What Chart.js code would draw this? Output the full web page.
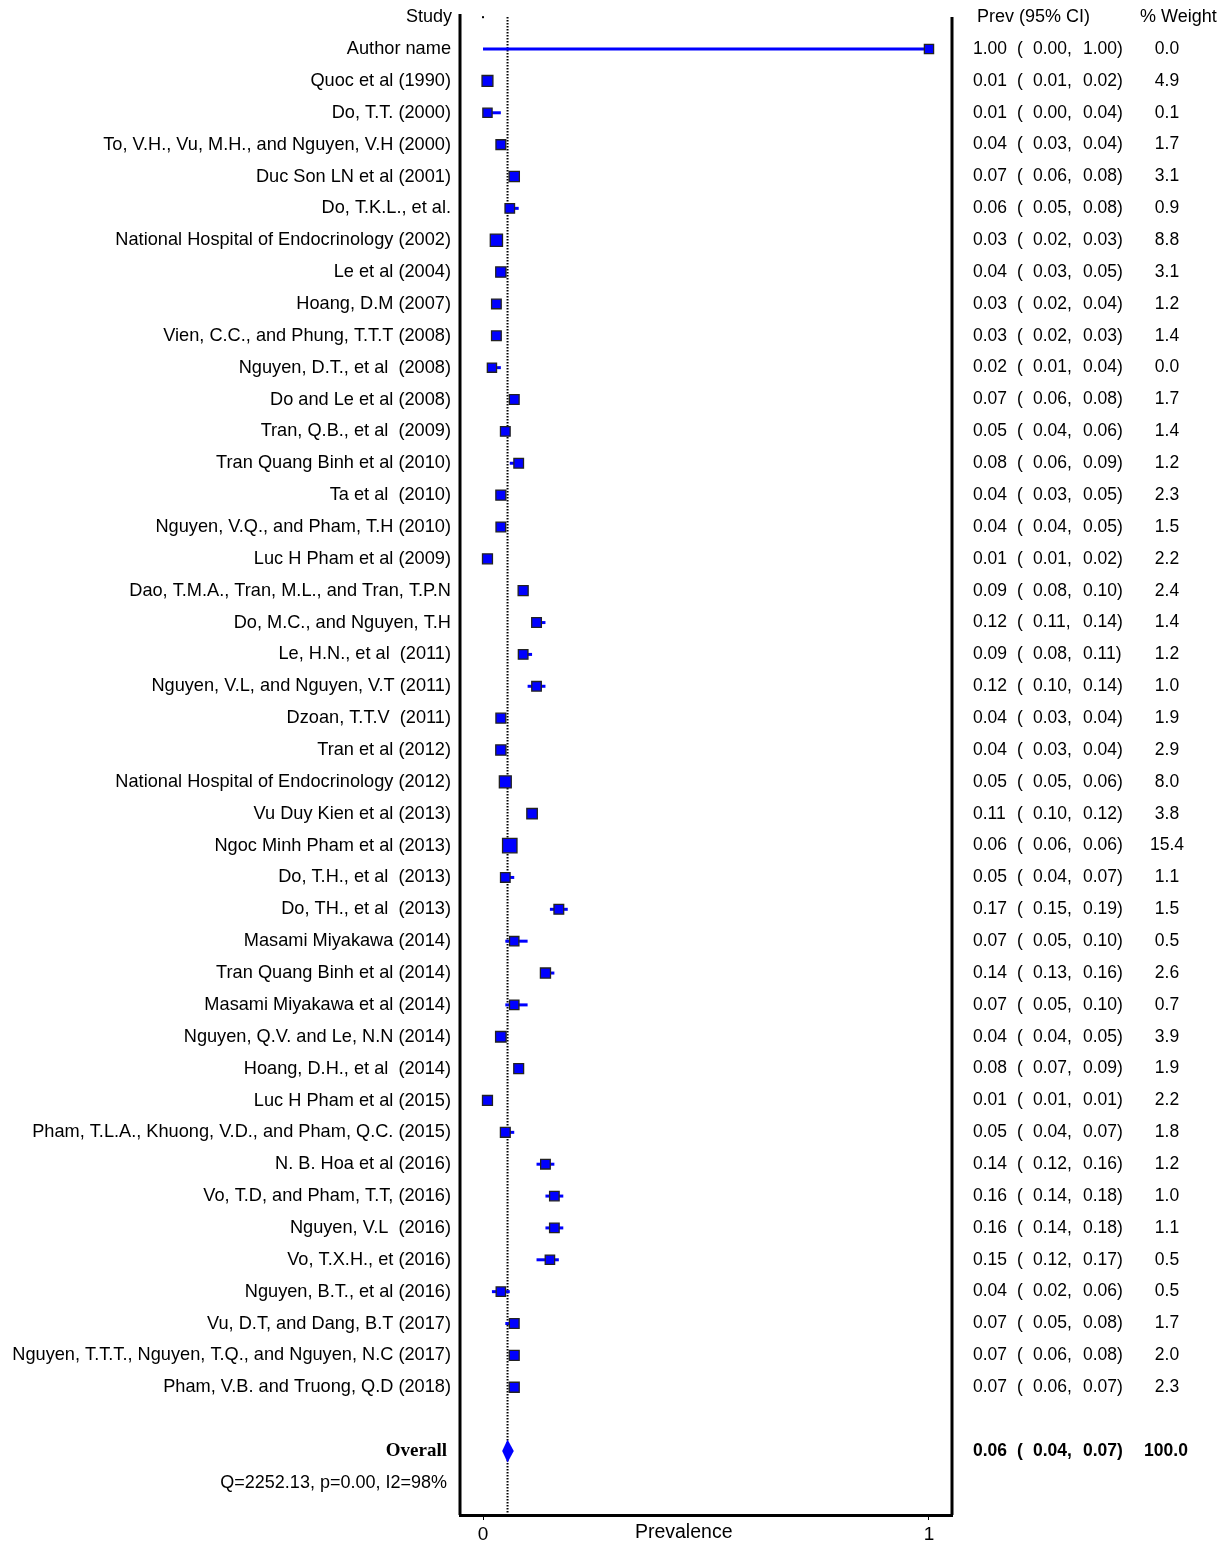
<!DOCTYPE html>
<html>
<head>
<meta charset="utf-8">
<script src="https://cdn.jsdelivr.net/npm/chart.js@4.4.1/dist/chart.umd.min.js"></script>
<style>
  html, body { margin: 0; padding: 0; background: #fff; }
  #wrap { position: relative; width: 1227px; height: 1542px; }
</style>
</head>
<body>
<div id="wrap"><canvas id="forest" width="1227" height="1542"></canvas></div>
<script>
// study labels, top to bottom
const studies = [
  'Author name',
  'Quoc et al (1990)',
  'Do, T.T. (2000)',
  'To, V.H., Vu, M.H., and Nguyen, V.H (2000)',
  'Duc Son LN et al (2001)',
  'Do, T.K.L., et al.',
  'National Hospital of Endocrinology (2002)',
  'Le et al (2004)',
  'Hoang, D.M (2007)',
  'Vien, C.C., and Phung, T.T.T (2008)',
  'Nguyen, D.T., et al  (2008)',
  'Do and Le et al (2008)',
  'Tran, Q.B., et al  (2009)',
  'Tran Quang Binh et al (2010)',
  'Ta et al  (2010)',
  'Nguyen, V.Q., and Pham, T.H (2010)',
  'Luc H Pham et al (2009)',
  'Dao, T.M.A., Tran, M.L., and Tran, T.P.N',
  'Do, M.C., and Nguyen, T.H',
  'Le, H.N., et al  (2011)',
  'Nguyen, V.L, and Nguyen, V.T (2011)',
  'Dzoan, T.T.V  (2011)',
  'Tran et al (2012)',
  'National Hospital of Endocrinology (2012)',
  'Vu Duy Kien et al (2013)',
  'Ngoc Minh Pham et al (2013)',
  'Do, T.H., et al  (2013)',
  'Do, TH., et al  (2013)',
  'Masami Miyakawa (2014)',
  'Tran Quang Binh et al (2014)',
  'Masami Miyakawa et al (2014)',
  'Nguyen, Q.V. and Le, N.N (2014)',
  'Hoang, D.H., et al  (2014)',
  'Luc H Pham et al (2015)',
  'Pham, T.L.A., Khuong, V.D., and Pham, Q.C. (2015)',
  'N. B. Hoa et al (2016)',
  'Vo, T.D, and Pham, T.T, (2016)',
  'Nguyen, V.L  (2016)',
  'Vo, T.X.H., et (2016)',
  'Nguyen, B.T., et al (2016)',
  'Vu, D.T, and Dang, B.T (2017)',
  'Nguyen, T.T.T., Nguyen, T.Q., and Nguyen, N.C (2017)',
  'Pham, V.B. and Truong, Q.D (2018)'
];
const prev = [1.00, 0.01, 0.01, 0.04, 0.07, 0.06, 0.03, 0.04, 0.03, 0.03, 0.02, 0.07, 0.05, 0.08, 0.04,
  0.04, 0.01, 0.09, 0.12, 0.09, 0.12, 0.04, 0.04, 0.05, 0.11, 0.06, 0.05, 0.17, 0.07, 0.14, 0.07,
  0.04, 0.08, 0.01, 0.05, 0.14, 0.16, 0.16, 0.15, 0.04, 0.07, 0.07, 0.07];
const lower = [0.00, 0.01, 0.00, 0.03, 0.06, 0.05, 0.02, 0.03, 0.02, 0.02, 0.01, 0.06, 0.04, 0.06, 0.03,
  0.04, 0.01, 0.08, 0.11, 0.08, 0.10, 0.03, 0.03, 0.05, 0.10, 0.06, 0.04, 0.15, 0.05, 0.13, 0.05,
  0.04, 0.07, 0.01, 0.04, 0.12, 0.14, 0.14, 0.12, 0.02, 0.05, 0.06, 0.06];
const upper = [1.00, 0.02, 0.04, 0.04, 0.08, 0.08, 0.03, 0.05, 0.04, 0.03, 0.04, 0.08, 0.06, 0.09, 0.05,
  0.05, 0.02, 0.10, 0.14, 0.11, 0.14, 0.04, 0.04, 0.06, 0.12, 0.06, 0.07, 0.19, 0.10, 0.16, 0.10,
  0.05, 0.09, 0.01, 0.07, 0.16, 0.18, 0.18, 0.17, 0.06, 0.08, 0.08, 0.07];
const weights = [0.0, 4.9, 0.1, 1.7, 3.1, 0.9, 8.8, 3.1, 1.2, 1.4, 0.0, 1.7, 1.4, 1.2, 2.3,
  1.5, 2.2, 2.4, 1.4, 1.2, 1.0, 1.9, 2.9, 8.0, 3.8, 15.4, 1.1, 1.5, 0.5, 2.6, 0.7,
  3.9, 1.9, 2.2, 1.8, 1.2, 1.0, 1.1, 0.5, 0.5, 1.7, 2.0, 2.3];

// pooled estimate
const overallEst = 0.055;
const overallLow = 0.043;
const overallHigh = 0.069;
const overallWeight = 100.0;
const hetText = 'Q=2252.13, p=0.00, I2=98%';
const xTicks = [0, 1];

const ROW_OVERALL = studies.length + 1;
const ROW_HET = studies.length + 2;

const f2 = v => v.toFixed(2);
const SANS = '"Liberation Sans", Arial, sans-serif';

// square side grows with weight, drawn as pointStyle rect (side = r * sqrt2)
const sideFor = w => 9.2 + 0.34 * w;

const squares = {
  type: 'scatter',
  order: 0,
  data: prev.map((v, i) => ({ x: v, y: i })),
  pointStyle: 'rect',
  pointRadius: weights.map(w => sideFor(w) / Math.SQRT2),
  pointBackgroundColor: '#0000ff',
  pointBorderColor: '#222',
  pointBorderWidth: 1.3
};

const ciLines = studies.map((s, i) => ({
  type: 'line',
  order: 1,
  data: [{ x: lower[i], y: i }, { x: upper[i], y: i }],
  borderColor: '#0000ff',
  borderWidth: 3,
  pointRadius: 0
}));

const forestText = {
  id: 'forestText',
  beforeDatasetsDraw(chart) {
    const { ctx, chartArea, scales: { x } } = chart;
    // reference line at pooled estimate, behind the marks
    const xp = x.getPixelForValue(overallEst);
    ctx.save();
    ctx.strokeStyle = '#000';
    ctx.lineWidth = 2;
    ctx.setLineDash([1.5, 1.5]);
    ctx.beginPath();
    ctx.moveTo(xp, chartArea.top + 3);
    ctx.lineTo(xp, chartArea.bottom);
    ctx.stroke();
    ctx.restore();
  },
  afterDatasetsDraw(chart) {
    const { ctx, chartArea, scales: { x, y } } = chart;
    ctx.save();

    // diamond
    const xp = x.getPixelForValue(overallEst);
    const yo = y.getPixelForValue(ROW_OVERALL);
    const halfH = 11.5;
    ctx.fillStyle = '#0000ff';
    ctx.beginPath();
    ctx.moveTo(x.getPixelForValue(overallLow), yo);
    ctx.lineTo(xp, yo - halfH);
    ctx.lineTo(x.getPixelForValue(overallHigh), yo);
    ctx.lineTo(xp, yo + halfH);
    ctx.closePath();
    ctx.fill();

    // frame sides
    ctx.strokeStyle = '#000';
    ctx.lineWidth = 3;
    ctx.beginPath();
    ctx.moveTo(chartArea.left, chartArea.top);
    ctx.lineTo(chartArea.left, chartArea.bottom);
    ctx.moveTo(chartArea.right, chartArea.top + 3);
    ctx.lineTo(chartArea.right, chartArea.bottom);
    ctx.stroke();

    // tiny mark at 0 in the header row
    ctx.fillStyle = '#000';
    ctx.fillRect(x.getPixelForValue(0) - 1, y.getPixelForValue(-1) - 1, 2, 2);

    ctx.textBaseline = 'middle';
    ctx.font = '18px ' + SANS;

    // headers
    const yh = y.getPixelForValue(-1);
    ctx.textAlign = 'right';
    ctx.fillText('Study', 452, yh);
    ctx.textAlign = 'left';
    ctx.fillText('Prev (95% CI)', 977, yh);
    ctx.fillText('% Weight', 1140, yh);

    // rows
    studies.forEach((s, i) => {
      const yp = y.getPixelForValue(i);
      ctx.font = '18.2px ' + SANS;
      ctx.textAlign = 'right';
      ctx.fillText(s, 451, yp);
      ctx.font = '17.5px ' + SANS;
      ctx.textAlign = 'left';
      ctx.fillText(f2(prev[i]), 973, yp);
      ctx.fillText('(', 1017, yp);
      ctx.fillText(f2(lower[i]) + ',', 1033, yp);
      ctx.fillText(f2(upper[i]) + ')', 1083, yp);
      ctx.textAlign = 'center';
      ctx.fillText(weights[i].toFixed(1), 1167, yp);
    });

    // overall row
    ctx.textAlign = 'right';
    ctx.font = 'bold 19px "Liberation Serif", "Times New Roman", serif';
    ctx.fillText('Overall', 447, yo);
    ctx.font = 'bold 17.5px ' + SANS;
    ctx.textAlign = 'left';
    ctx.fillText(f2(overallEst), 973, yo);
    ctx.fillText('(', 1017, yo);
    ctx.fillText(f2(overallLow) + ',', 1033, yo);
    ctx.fillText(f2(overallHigh) + ')', 1083, yo);
    ctx.textAlign = 'center';
    ctx.fillText(overallWeight.toFixed(1), 1166, yo);

    ctx.font = '18px ' + SANS;
    ctx.textAlign = 'right';
    ctx.fillText(hetText, 447, y.getPixelForValue(ROW_HET));

    // axis title
    ctx.font = '19.5px ' + SANS;
    ctx.textAlign = 'center';
    ctx.fillText('Prevalence', x.getPixelForValue(0.45), chartArea.bottom + 18);

    ctx.restore();
  }
};

new Chart(document.getElementById('forest'), {
  data: { datasets: [squares, ...ciLines] },
  options: {
    responsive: false,
    animation: false,
    layout: { padding: { left: 460, right: 275, top: 14, bottom: 0 } },
    plugins: { legend: { display: false }, tooltip: { enabled: false } },
    scales: {
      x: {
        type: 'linear',
        min: -0.0516,
        max: 1.0516,
        afterBuildTicks: ax => { ax.ticks = xTicks.map(v => ({ value: v })); },
        afterFit: ax => { ax.height = 27; },
        border: { display: true, width: 3, color: '#000' },
        grid: { drawOnChartArea: false, drawTicks: true, tickLength: 5, tickColor: '#000', tickWidth: 1 },
        ticks: { color: '#000', font: { family: SANS, size: 19 }, padding: 3, maxRotation: 0 }
      },
      y: {
        type: 'linear',
        display: false,
        reverse: true,
        min: -1.1,
        max: 46.01
      }
    }
  },
  plugins: [forestText]
});
</script>
</body>
</html>
